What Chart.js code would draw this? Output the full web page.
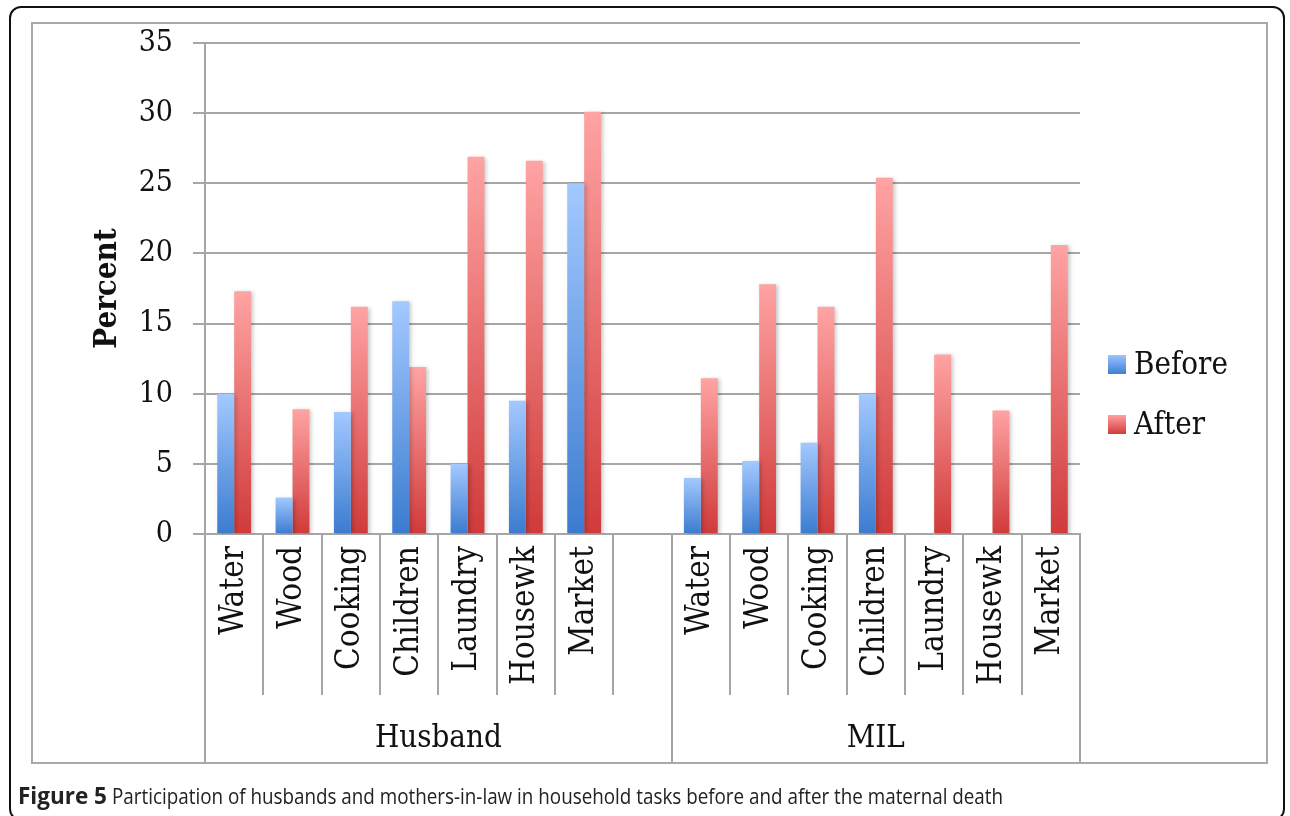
<!DOCTYPE html>
<html>
<head>
<meta charset="utf-8">
<script src="https://cdn.jsdelivr.net/npm/chart.js@4.4.1/dist/chart.umd.min.js"></script>
<style>
  html, body { margin: 0; padding: 0; background: #fff; }
  #page { position: relative; width: 1290px; height: 816px; overflow: hidden; background: #fff; }
  #outer { position: absolute; left: 9px; top: 6px; width: 1276px; height: 815px; border: 2px solid #111; border-radius: 12px; box-sizing: border-box; }
  #inner { position: absolute; left: 31px; top: 22px; width: 1237px; height: 742px; border: 2px solid #a9a9a9; box-sizing: border-box; }
  #chart { position: absolute; left: 0; top: 0; }
  .leg { position: absolute; left: 1108px; font-family: "DejaVu Serif Condensed", "DejaVu Serif", serif; font-size: 31px; color: #111; line-height: 34px; white-space: nowrap; }
  .leg span.box { display: inline-block; width: 18px; height: 19px; margin-right: 8px; vertical-align: 0px; }
  #caption { position: absolute; left: 18px; top: 785px; font-family: "Open Sans", sans-serif; font-size: 22.5px; line-height: 22px; color: #222; white-space: nowrap; }
  #caption b { font-weight: 700; }
  #capRest { display: inline-block; transform-origin: 0 0; margin-left: 5px; }
</style>
</head>
<body>
<div id="page">
  <div id="outer"></div>
  <div id="inner"></div>
  <canvas id="chart" width="1290" height="816"></canvas>
  <div class="leg" style="top:346px"><span class="box" style="background:linear-gradient(#9cc3ff,#3f7fd0)"></span>Before</div>
  <div class="leg" style="top:406px"><span class="box" style="background:linear-gradient(#ff9f9f,#d23c3c)"></span>After</div>
  <div id="caption"><b id="capBold">Figure 5</b><span id="capRest">Participation of husbands and mothers-in-law in household tasks before and after the maternal death</span></div>
</div>
<script>
// ---- data ----
const tasks = ['Water', 'Wood', 'Cooking', 'Children', 'Laundry', 'Housewk', 'Market'];
const groups = ['Husband', 'MIL'];
const husbandBefore = [10, 2.6, 8.7, 16.6, 5, 9.5, 25];
const husbandAfter  = [17.3, 8.9, 16.2, 11.9, 26.9, 26.6, 30.1];
const milBefore     = [4, 5.2, 6.5, 10, 0, 0, 0];
const milAfter      = [11.1, 17.8, 16.2, 25.4, 12.8, 8.8, 20.6];
const yTicks = [0, 5, 10, 15, 20, 25, 30, 35];

// build category list with an empty gap slot between groups
const labels = [...tasks, '', ...tasks];
const beforeData = [...husbandBefore, null, ...milBefore];
const afterData  = [...husbandAfter, null, ...milAfter];
const groupSpans = [[0, 8], [8, 15]]; // slot ranges (start, end) for each group

const SERIF = '"DejaVu Serif Condensed", "DejaVu Serif", serif';

function grad(context, top, bottom) {
  const chart = context.chart;
  if (!chart.chartArea || !chart.scales.y) return bottom;
  const v = context.raw;
  if (!v) return bottom;
  const ys = chart.scales.y;
  const y0 = ys.getPixelForValue(0), y1 = ys.getPixelForValue(v);
  const g = chart.ctx.createLinearGradient(0, y1, 0, y0);
  g.addColorStop(0, top);
  g.addColorStop(1, bottom);
  return g;
}

const shadowPlugin = {
  id: 'shadow',
  beforeDatasetsDraw(chart) {
    const c = chart.ctx; c.save();
    c.shadowColor = 'rgba(0,0,0,0.22)'; c.shadowBlur = 4; c.shadowOffsetX = 2; c.shadowOffsetY = 1;
  },
  afterDatasetsDraw(chart) { chart.ctx.restore(); }
};

const groupPlugin = {
  id: 'groups',
  afterDraw(chart) {
    const xs = chart.scales.x;
    const c = chart.ctx;
    const n = labels.length;
    const slot = (xs.right - xs.left) / n;
    const top = xs.top;
    const shortBottom = top + 161;
    const longBottom = top + 228;
    const groupEdges = new Set();
    groupSpans.forEach(s => { groupEdges.add(s[0]); groupEdges.add(s[1]); });
    c.save();
    c.strokeStyle = '#a6a6a6';
    c.lineWidth = 2;
    for (let i = 0; i <= n; i++) {
      const x = Math.round(xs.left + i * slot);
      c.beginPath();
      c.moveTo(x, top);
      c.lineTo(x, groupEdges.has(i) ? longBottom : shortBottom);
      c.stroke();
    }
    c.fillStyle = '#111';
    c.font = '31px ' + SERIF;
    c.textAlign = 'center';
    c.textBaseline = 'middle';
    groupSpans.forEach((s, gi) => {
      const cx = xs.left + (s[0] + s[1]) / 2 * slot;
      c.fillText(groups[gi], cx, top + 205);
    });
    c.restore();
  }
};

new Chart(document.getElementById('chart'), {
  type: 'bar',
  data: {
    labels: labels,
    datasets: [
      { label: 'Before', data: beforeData, backgroundColor: ctx => grad(ctx, '#a3c9ff', '#3b7bcf'), borderWidth: 0 },
      { label: 'After', data: afterData, backgroundColor: ctx => grad(ctx, '#ffa3a3', '#d03a3a'), borderWidth: 0 }
    ]
  },
  options: {
    responsive: false,
    animation: false,
    devicePixelRatio: 1,
    layout: { padding: { left: 0, top: 43, right: 210, bottom: 0 } },
    datasets: { bar: { categoryPercentage: 0.58, barPercentage: 1.0 } },
    plugins: { legend: { display: false }, tooltip: { enabled: false } },
    scales: {
      x: {
        grid: { display: false },
        border: { display: true, color: '#a6a6a6', width: 2 },
        ticks: {
          autoSkip: false, minRotation: 90, maxRotation: 90, padding: 4,
          color: '#111', font: { family: SERIF, size: 33 }
        },
        afterFit(scale) { scale.height = 282; }
      },
      y: {
        min: 0, max: 35,
        afterBuildTicks(scale) { scale.ticks = yTicks.map(v => ({ value: v })); },
        grid: { color: '#a6a6a6', lineWidth: 2, tickLength: 12, drawTicks: true },
        border: { display: true, color: '#a6a6a6', width: 2 },
        ticks: { color: '#111', padding: 20, font: { family: SERIF, size: 30 } },
        title: {
          display: true, text: 'Percent', color: '#111',
          font: { family: SERIF, size: 31, weight: 'bold' },
          padding: { top: 89, bottom: 0 }
        },
        afterFit(scale) { scale.width = 205; }
      }
    }
  },
  plugins: [shadowPlugin, groupPlugin]
});

// fit caption width to the reference: bold part natural, remainder condensed to end near x=1003
const rest = document.getElementById('capRest');
const rr = rest.getBoundingClientRect();
const target = 1003 - rr.left;
rest.style.transform = 'scaleX(' + (target / rr.width) + ')';
</script>
</body>
</html>
